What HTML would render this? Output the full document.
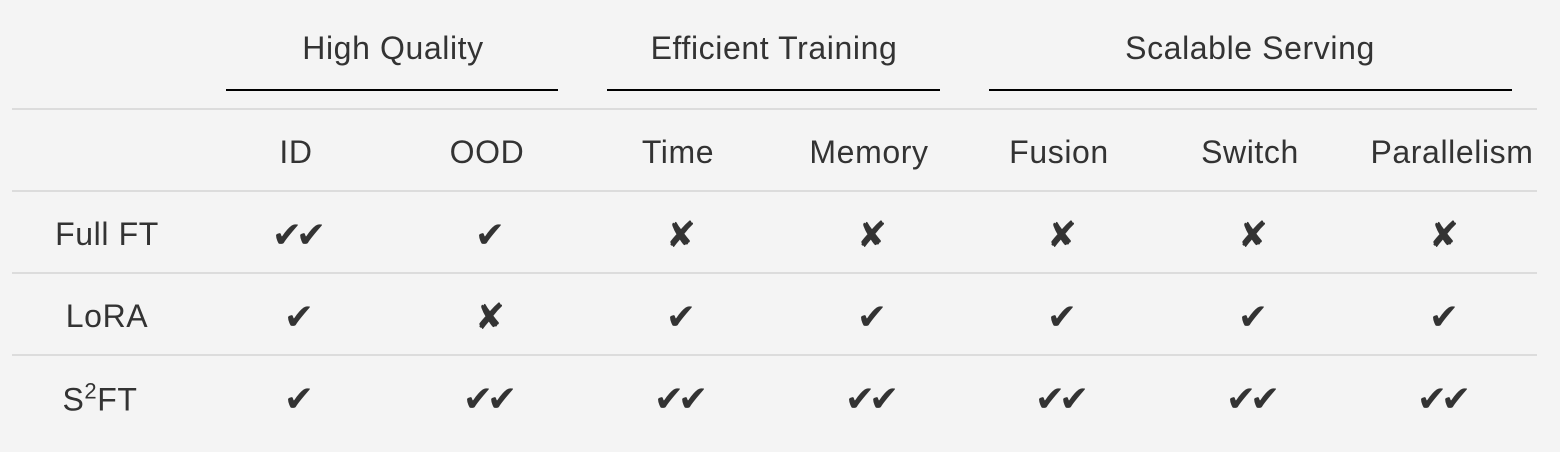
<!DOCTYPE html>
<html><head><meta charset="utf-8"><style>
body{margin:0;width:1560px;height:452px;background:#f4f4f4;position:relative;overflow:hidden;font-family:"Liberation Sans","DejaVu Sans",sans-serif;color:#333;}
.t{position:absolute;font-size:32px;letter-spacing:0.6px;transform:translate(-50%,-50%);white-space:nowrap;line-height:1;}
.m{position:absolute;font-family:"DejaVu Sans",sans-serif;font-size:36px;transform:translate(-50%,-50%);white-space:nowrap;line-height:1;color:#333;letter-spacing:-6px;}
.bl{position:absolute;height:2px;background:#000;top:89px;}
.gl{position:absolute;left:12px;width:1525px;height:2px;background:#dcdcdc;}
sup{font-size:22px;vertical-align:12px;}
</style></head><body>
<div class="t" style="left:393px;top:48px">High Quality</div>
<div class="t" style="left:774px;top:48px">Efficient Training</div>
<div class="t" style="left:1250px;top:48px">Scalable Serving</div>
<div class="bl" style="left:226px;width:332px"></div>
<div class="bl" style="left:607px;width:333px"></div>
<div class="bl" style="left:989px;width:523px"></div>
<div class="gl" style="top:108px"></div>
<div class="gl" style="top:190px"></div>
<div class="gl" style="top:272px"></div>
<div class="gl" style="top:354px"></div>
<div class="t" style="left:296px;top:152px">ID</div>
<div class="t" style="left:487px;top:152px">OOD</div>
<div class="t" style="left:678px;top:152px">Time</div>
<div class="t" style="left:869px;top:152px">Memory</div>
<div class="t" style="left:1059px;top:152px">Fusion</div>
<div class="t" style="left:1250px;top:152px">Switch</div>
<div class="t" style="left:1452px;top:152px">Parallelism</div>
<div class="t" style="left:107px;top:234px">Full FT</div>
<div class="t" style="left:107px;top:316px">LoRA</div>
<div class="t" style="left:100px;top:398px">S<sup>2</sup>FT</div>
<div class="m" style="left:296px;top:236px">✔✔</div>
<div class="m" style="left:487px;top:236px">✔</div>
<div class="m" style="left:678px;top:236px">✘</div>
<div class="m" style="left:869px;top:236px">✘</div>
<div class="m" style="left:1059px;top:236px">✘</div>
<div class="m" style="left:1250px;top:236px">✘</div>
<div class="m" style="left:1441px;top:236px">✘</div>
<div class="m" style="left:296px;top:318px">✔</div>
<div class="m" style="left:487px;top:318px">✘</div>
<div class="m" style="left:678px;top:318px">✔</div>
<div class="m" style="left:869px;top:318px">✔</div>
<div class="m" style="left:1059px;top:318px">✔</div>
<div class="m" style="left:1250px;top:318px">✔</div>
<div class="m" style="left:1441px;top:318px">✔</div>
<div class="m" style="left:296px;top:400px">✔</div>
<div class="m" style="left:487px;top:400px">✔✔</div>
<div class="m" style="left:678px;top:400px">✔✔</div>
<div class="m" style="left:869px;top:400px">✔✔</div>
<div class="m" style="left:1059px;top:400px">✔✔</div>
<div class="m" style="left:1250px;top:400px">✔✔</div>
<div class="m" style="left:1441px;top:400px">✔✔</div>
</body></html>
